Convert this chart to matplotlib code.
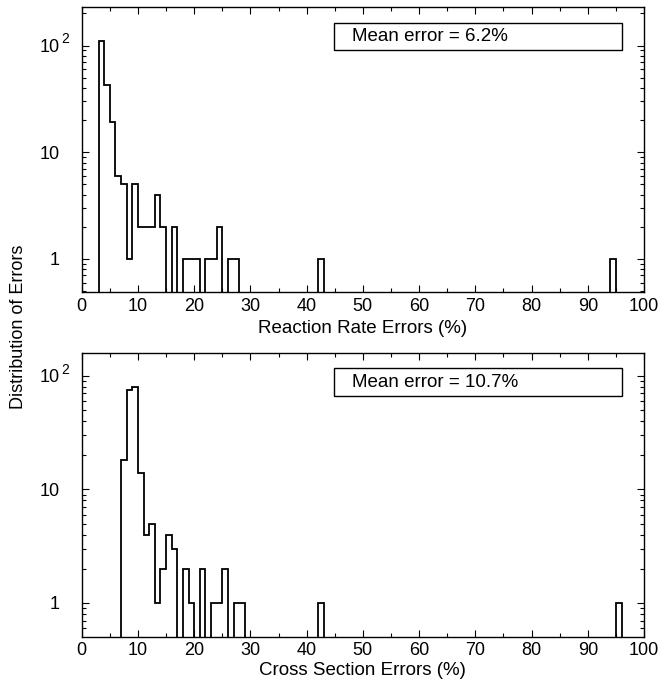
import numpy as np
import matplotlib
matplotlib.use("Agg")
import matplotlib.pyplot as plt
from matplotlib.patches import Rectangle
from matplotlib.ticker import FixedLocator, FixedFormatter, LogLocator, MultipleLocator

plt.rcParams['font.family'] = ['Liberation Sans', 'DejaVu Sans']

# counts per 1%-wide bin, keyed by the bin's left edge
rate_edges = [3, 4, 5, 6, 7, 8, 9, 10, 11, 12, 13, 14, 15, 16, 17, 18, 19, 20, 21,
              22, 23, 24, 25, 26, 27, 42, 94]
rate_counts = [111, 43, 19, 6, 5, 1, 5, 2, 2, 2, 4, 2, 0, 2, 0, 1, 1, 1, 0,
               1, 1, 2, 0, 1, 1, 1, 1]
xs_edges = [7, 8, 9, 10, 11, 12, 13, 14, 15, 16, 17, 18, 19, 20, 21, 22, 23, 24, 25,
            26, 27, 28, 42, 95]
xs_counts = [18, 75, 79, 14, 4, 5, 1, 2, 4, 3, 0, 2, 1, 0, 2, 0, 1, 1, 2,
             0, 1, 1, 1, 1]

rate_label = "Reaction Rate Errors (%)"
xs_label = "Cross Section Errors (%)"
rate_note = "Mean error = 6.2%"
xs_note = "Mean error = 10.7%"


def full_hist(edges, counts):
    h = np.zeros(100)
    for e, c in zip(edges, counts):
        h[e] = c
    return h


fig = plt.figure(figsize=(6.6, 6.83), dpi=100)
ax1 = fig.add_axes([0.1238, 0.5725, 0.852, 0.4168])
ax2 = fig.add_axes([0.1238, 0.0678, 0.852, 0.4150])

bins = np.arange(0, 101)
panels = [(ax1, rate_edges, rate_counts, rate_label, rate_note, (0.49, 228), (0.85, 0.945), 4),
          (ax2, xs_edges, xs_counts, xs_label, xs_note, (0.505, 158), (0.848, 0.949), 2)]

for ax, edges, counts, xlab, note, ylim, box, lpad in panels:
    h = full_hist(edges, counts)
    ax.stairs(h, bins, color='black', lw=1.3, baseline=None)
    ax.set_yscale('log')
    ax.set_xlim(0, 100)
    ax.set_ylim(*ylim)
    ax.xaxis.set_major_locator(MultipleLocator(10))
    ax.xaxis.set_minor_locator(MultipleLocator(5))
    ax.yaxis.set_major_locator(FixedLocator([1, 10, 100]))
    ax.yaxis.set_major_formatter(FixedFormatter(['1', '10', '10']))
    ax.yaxis.set_minor_locator(LogLocator(base=10, subs=np.arange(2, 10)))
    ax.yaxis.set_minor_formatter(plt.NullFormatter())
    ax.tick_params(which='both', direction='in', top=True, right=True,
                   labelsize=13, colors='black', width=0.8)
    ax.tick_params(which='major', length=5)
    ax.tick_params(which='minor', length=3)
    ax.tick_params(axis='x', which='major', pad=4)
    ax.tick_params(axis='y', which='major', pad=16)
    for sp in ax.spines.values():
        sp.set_linewidth(1.0)
    ax.set_xlabel(xlab, fontsize=13.5, labelpad=lpad)

    # superscript of the "10 2" tick label
    ax.annotate("2", xy=(0, 100), xycoords=ax.get_yaxis_transform(),
                xytext=(-12, 4.5), textcoords='offset points',
                ha='center', va='center', fontsize=10)

    x0, x1 = 0.449, 0.961
    ax.add_patch(Rectangle((x0, box[0]), x1 - x0, box[1] - box[0], transform=ax.transAxes,
                           fill=False, edgecolor='black', lw=1.0))
    ax.text(x0 + 0.031, (box[0] + box[1]) / 2, note, transform=ax.transAxes,
            ha='left', va='center', fontsize=13.5)

fig.text(0.028, 0.522, "Distribution of Errors", rotation=90, ha='center', va='center',
         fontsize=13)

fig.savefig("out.png", dpi=100)
